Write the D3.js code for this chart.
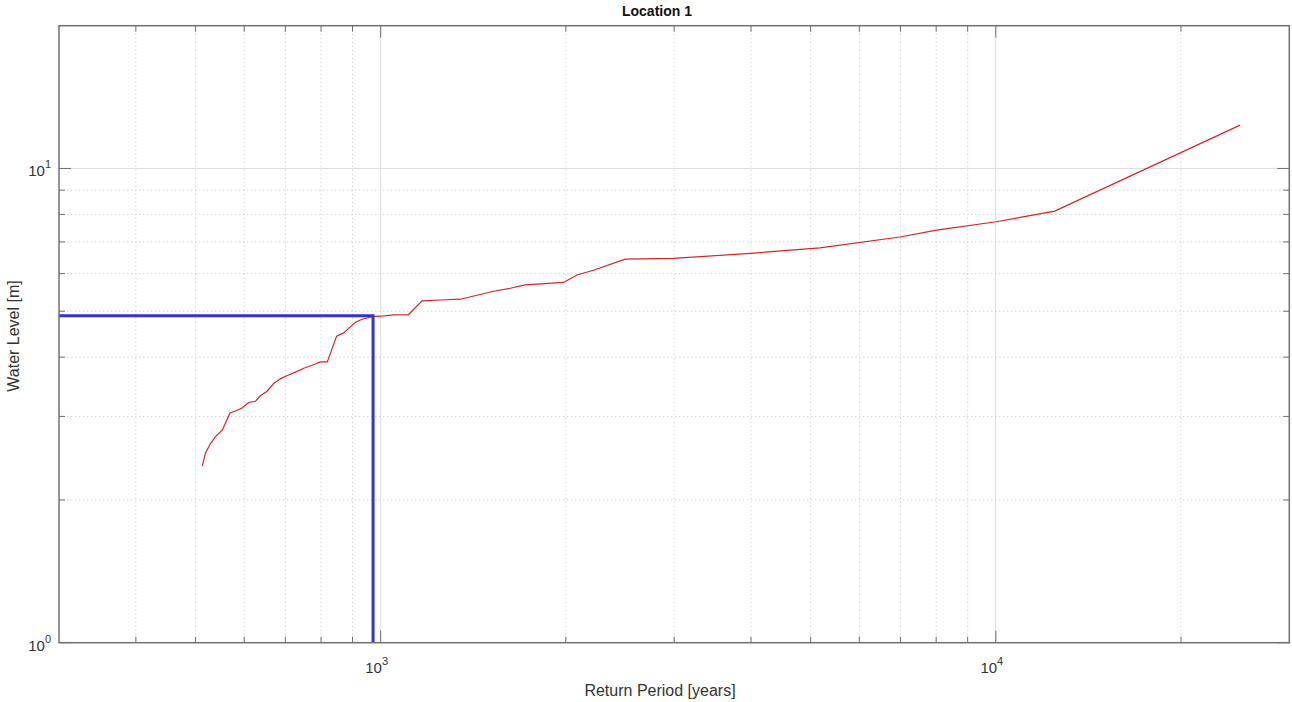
<!DOCTYPE html>
<html>
<head>
<meta charset="utf-8">
<script src="https://cdn.jsdelivr.net/npm/d3@7"></script>
<style>
  html, body { margin: 0; padding: 0; background: #fff; }
  svg { display: block; font-family: "Liberation Sans", Arial, Helvetica, sans-serif; }
</style>
</head>
<body>
<svg id="chart" width="1292" height="702"></svg>
<script>
// ---- Data ----
const returnPeriod = [513, 519, 529, 539, 553, 569, 581, 596, 610, 626, 638, 654, 670, 687, 705, 727, 750, 779, 798, 819,
  848, 871, 887, 910, 933, 968, 999, 1050, 1110, 1168, 1250, 1348, 1526, 1624, 1718, 1983, 2085, 2218, 2497, 2991,
  3985, 5177, 6984, 8010, 10019, 12469, 24957];
const waterLevel = [2.36, 2.51, 2.63, 2.72, 2.81, 3.05, 3.08, 3.13, 3.21, 3.23, 3.32, 3.39, 3.52, 3.60, 3.66, 3.72, 3.79, 3.86, 3.91, 3.91,
  4.43, 4.50, 4.60, 4.74, 4.81, 4.87, 4.88, 4.91, 4.92, 5.26, 5.28, 5.30, 5.51, 5.59, 5.68, 5.75, 5.96, 6.10, 6.44, 6.46,
  6.62, 6.80, 7.17, 7.41, 7.72, 8.13, 12.34];
const designPeriod = [972];
const designLevel = [4.89];
const xDomain = [300, 30000];
const yDomain = [1, 20];
const xMajorTicks = [1000, 10000];
const xMajorLabels = ["3", "4"];
const xMinorTicks = [400, 500, 600, 700, 800, 900, 2000, 3000, 4000, 5000, 6000, 7000, 8000, 9000, 20000];
const yMajorTicks = [1, 10];
const yMajorLabels = ["0", "1"];
const yMinorTicks = [2, 3, 4, 5, 6, 7, 8, 9];
const titleText = "Location 1";
const xLabelText = "Return Period [years]";
const yLabelText = "Water Level [m]";

// ---- Layout ----
const L = 59, T = 25.7, R = 1289.3, B = 642.7;
const svg = d3.select("#chart");
const x = d3.scaleLog().domain(xDomain).range([L, R]);
const y = d3.scaleLog().domain(yDomain).range([B, T]);

const grid = svg.append("g");
// minor dotted grid
grid.selectAll(".gxm").data(xMinorTicks).join("line")
  .attr("x1", d => x(d)).attr("x2", d => x(d)).attr("y1", T).attr("y2", B)
  .attr("stroke", "#d4d4d4").attr("stroke-width", 1).attr("stroke-dasharray", "1.5,2.5");
grid.selectAll(".gym").data(yMinorTicks).join("line")
  .attr("y1", d => y(d)).attr("y2", d => y(d)).attr("x1", L).attr("x2", R)
  .attr("stroke", "#d4d4d4").attr("stroke-width", 1).attr("stroke-dasharray", "1.5,2.5");
// major solid grid
grid.selectAll(".gxM").data(xMajorTicks).join("line")
  .attr("x1", d => x(d)).attr("x2", d => x(d)).attr("y1", T).attr("y2", B)
  .attr("stroke", "#dedede").attr("stroke-width", 1);
grid.selectAll(".gyM").data(yMajorTicks.filter(d => d > yDomain[0])).join("line")
  .attr("y1", d => y(d)).attr("y2", d => y(d)).attr("x1", L).attr("x2", R)
  .attr("stroke", "#dedede").attr("stroke-width", 1);

// ---- Data lines ----
const pts = returnPeriod.map((d, i) => [d, waterLevel[i]]);
const line = d3.line().x(d => x(d[0])).y(d => y(d[1]));
svg.append("path").datum(pts).attr("d", line)
  .attr("fill", "none").attr("stroke", "#d42525").attr("stroke-width", 1.2);

const refPts = [[xDomain[0], designLevel[0]], [designPeriod[0], designLevel[0]], [designPeriod[0], yDomain[0]]];
svg.append("path").datum(refPts).attr("d", line)
  .attr("fill", "none").attr("stroke", "#3434cc").attr("stroke-width", 3);

// ---- Axes box and ticks (inward, on all sides) ----
const ax = svg.append("g").attr("stroke", "#707070").attr("stroke-width", 1);
const majLen = 12, minLen = 6;
function vt(vals, len) {
  vals.forEach(v => {
    ax.append("line").attr("x1", x(v)).attr("x2", x(v)).attr("y1", B).attr("y2", B - len);
    ax.append("line").attr("x1", x(v)).attr("x2", x(v)).attr("y1", T).attr("y2", T + len);
  });
}
function ht(vals, len) {
  vals.forEach(v => {
    ax.append("line").attr("y1", y(v)).attr("y2", y(v)).attr("x1", L).attr("x2", L + len);
    ax.append("line").attr("y1", y(v)).attr("y2", y(v)).attr("x1", R).attr("x2", R - len);
  });
}
vt(xMajorTicks, majLen); vt(xMinorTicks, minLen);
ht(yMajorTicks, majLen); ht(yMinorTicks, minLen);
svg.append("rect").attr("x", L).attr("y", T).attr("width", R - L).attr("height", B - T)
  .attr("fill", "none").attr("stroke", "#707070").attr("stroke-width", 1.5);

// tick labels
const txtColor = "#333";
xMajorTicks.forEach((v, i) => {
  const t = svg.append("text").attr("x", x(v) - 4).attr("y", B + 30)
    .attr("text-anchor", "middle").attr("font-size", 15).attr("fill", txtColor);
  t.append("tspan").text("10");
  t.append("tspan").attr("dy", -8).attr("font-size", 11).text(xMajorLabels[i]);
});
yMajorTicks.forEach((v, i) => {
  const t = svg.append("text").attr("x", L - 8).attr("y", y(v) + 8)
    .attr("text-anchor", "end").attr("font-size", 15).attr("fill", txtColor);
  t.append("tspan").text("10");
  t.append("tspan").attr("dy", -8).attr("font-size", 11).text(yMajorLabels[i]);
});

// title and labels
svg.append("text").attr("x", 657).attr("y", 16).attr("text-anchor", "middle")
  .attr("font-size", 14).attr("font-weight", "bold").attr("fill", "#111").text(titleText);
svg.append("text").attr("x", 660).attr("y", 696).attr("text-anchor", "middle")
  .attr("font-size", 16).attr("fill", txtColor).text(xLabelText);
svg.append("text").attr("transform", "translate(19," + 336 + ") rotate(-90)")
  .attr("text-anchor", "middle").attr("font-size", 16).attr("fill", txtColor).text(yLabelText);
</script>
</body>
</html>
